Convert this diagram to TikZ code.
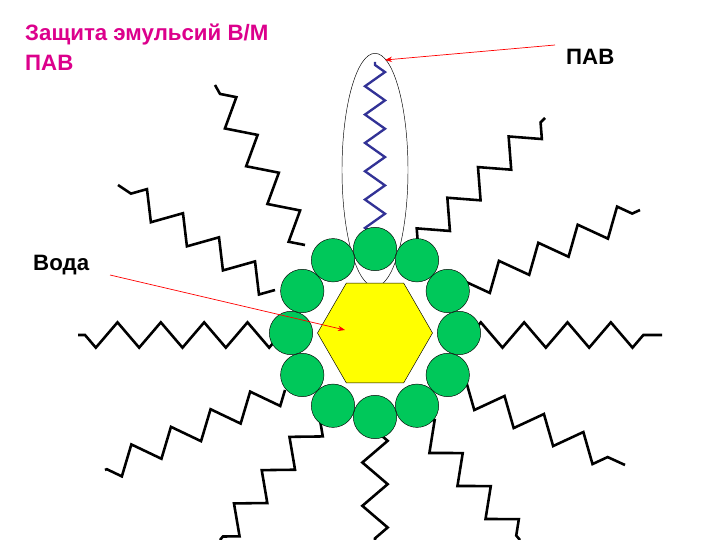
\documentclass[tikz,border=0pt]{standalone}
\usepackage{fontspec}
\setmainfont{Liberation Sans}
\usetikzlibrary{decorations.pathmorphing,shapes.geometric,arrows.meta}
\definecolor{gr}{RGB}{0,200,90}
\definecolor{ye}{RGB}{255,255,0}
\definecolor{mg}{RGB}{220,0,140}
\definecolor{bl}{RGB}{50,50,150}
\begin{document}
\begin{tikzpicture}[x=0.03cm,y=-0.03cm,
  chain/.style={draw=black,line width=2.2pt,line join=miter,decorate,decoration={zigzag,segment length=1.3cm,amplitude=0.38cm}},
  bchain/.style={draw=bl,line width=2pt,decorate,decoration={zigzag,segment length=0.85cm,amplitude=0.3cm}},
  ball/.style={circle,fill=gr,draw=black,line width=0.4pt,minimum size=1.3cm,inner sep=0pt},
  lbl/.style={font=\fontsize{19}{26}\selectfont\bfseries,inner sep=0pt,anchor=west,align=left},
  arr/.style={draw=red,line width=0.6pt,-{Stealth[length=6pt]}}]
\useasboundingbox (0,0) rectangle (720,540);
% chains
\coordinate (c0) at (375,235); \coordinate (e0) at (375,62);
\draw[bchain] (c0) -- (e0);
\foreach \sx/\sy/\ex/\ey in {305/245/215/85, 275/290/118/185, 280/335/78/335, 285/390/105/470, 320/420/220/540, 375/430/375/540, 418/420/520/540, 450/385/625/465, 470/335/662/335, 455/295/640/210, 418/245/545/118}
  \draw[chain] (\sx,\sy) -- (\ex,\ey);
% ellipse
\node[ellipse,draw=black,line width=0.4pt,inner sep=0pt,minimum width=1.98cm,minimum height=7cm] (ell) at (375,170) {};
% balls
\foreach \i in {0,...,11}
  \node[ball] (b\i) at ({375+84*sin(30*\i)},{333-84*cos(30*\i)}) {};
% hexagon
\node[regular polygon,regular polygon sides=6,shape border rotate=0,fill=ye,draw=black,line width=0.4pt,minimum size=3.45cm,inner sep=0pt] (hex) at (375,333) {};
% texts
\node[lbl,text=mg] (t1) at (25,47) {Защита эмульсий В/М\\ПАВ};
\node[lbl] (pav) at (566,57) {ПАВ};
\node[lbl] (voda) at (33,265) {Вода};
\coordinate (p1) at (555,45); \coordinate (p2) at (385,60);
\draw[arr] (p1) -- (p2);
\coordinate (v1) at (110,275);
\draw[arr] (v1) -- (345,330);
\end{tikzpicture}
\end{document}
